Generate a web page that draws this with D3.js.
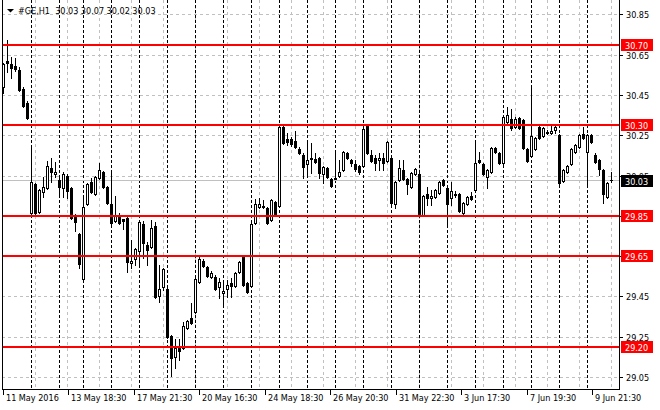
<!DOCTYPE html>
<html>
<head>
<meta charset="utf-8">
<script src="https://cdn.jsdelivr.net/npm/d3@7"></script>
<style>
  body { margin: 0; background: #fff; }
  text { font-family: "DejaVu Sans Condensed", "DejaVu Sans", sans-serif; font-size: 9px; }
</style>
</head>
<body>
<svg id="chart" width="660" height="410"></svg>
<script>
// --- data (H1 bars) ---
const open = [
  30.489,30.618,30.603,30.593,30.573,30.479,30.410,29.864,30.008,29.869,
  29.968,29.988,30.087,30.057,30.028,29.988,30.048,29.988,29.854,29.760,
  29.536,29.909,30.018,29.958,30.038,30.067,29.993,29.909,29.824,29.854,
  29.834,29.839,29.616,29.636,29.675,29.809,29.705,29.695,29.799,29.452,
  29.497,29.487,29.254,29.149,29.194,29.194,29.293,29.343,29.372,29.521,
  29.626,29.596,29.546,29.546,29.497,29.467,29.487,29.516,29.502,29.571,
  29.646,29.516,29.502,29.814,29.894,29.899,29.889,29.829,29.918,29.899,
  30.291,30.231,30.231,30.221,30.181,30.152,30.107,30.137,30.132,30.137,
  30.057,30.087,30.033,30.038,30.048,30.077,30.162,30.127,30.107,30.097,
  30.097,30.296,30.152,30.137,30.127,30.137,30.122,30.137,29.909,30.028,
  30.077,30.033,29.993,30.057,30.057,29.854,29.958,29.938,29.943,29.963,
  30.028,29.988,29.938,29.953,29.958,29.864,29.909,29.948,29.978,30.127,
  30.107,30.043,30.067,30.186,30.162,30.112,30.315,30.330,30.291,30.335,
  30.325,30.181,30.147,30.181,30.291,30.246,30.261,30.261,30.276,30.251,
  30.023,30.067,30.107,30.167,30.191,30.256,30.167,30.251,30.152,30.127,
  30.077,29.943,30.030
];
const high = [
  30.608,30.722,30.638,30.633,30.588,30.489,30.420,30.196,30.013,29.983,
  30.043,30.122,30.137,30.117,30.052,30.067,30.057,29.993,29.859,29.765,
  29.953,30.013,30.038,30.048,30.112,30.072,29.998,30.062,29.948,29.864,
  29.834,29.844,29.730,29.690,29.824,29.824,29.720,29.829,29.819,29.606,
  29.591,29.492,29.259,29.239,29.239,29.323,29.333,29.417,29.541,29.646,
  29.636,29.601,29.576,29.556,29.541,29.521,29.531,29.541,29.571,29.626,
  29.651,29.521,29.814,29.933,29.938,29.928,29.894,29.933,29.923,30.296,
  30.296,30.261,30.241,30.271,30.191,30.162,30.211,30.211,30.162,30.142,
  30.097,30.092,30.038,30.167,30.127,30.172,30.167,30.132,30.127,30.102,
  30.286,30.301,30.176,30.152,30.162,30.162,30.221,30.142,30.023,30.127,
  30.127,30.038,30.067,30.087,30.062,29.953,29.993,29.978,29.983,30.023,
  30.033,30.003,30.018,29.973,29.963,29.918,29.948,29.968,30.226,30.167,
  30.112,30.082,30.191,30.191,30.167,30.345,30.390,30.380,30.340,30.340,
  30.330,30.186,30.499,30.241,30.296,30.291,30.276,30.306,30.306,30.256,
  30.082,30.102,30.186,30.206,30.256,30.291,30.256,30.256,30.162,30.132,
  30.082,30.018,30.070
];
const low = [
  30.459,30.563,30.534,30.568,30.469,30.390,30.330,29.854,29.854,29.864,
  29.943,29.983,30.018,30.043,29.943,29.943,29.938,29.834,29.774,29.591,
  29.531,29.904,29.963,29.953,30.033,29.988,29.909,29.809,29.819,29.809,
  29.784,29.571,29.591,29.606,29.596,29.641,29.606,29.690,29.442,29.422,
  29.482,29.244,29.055,29.095,29.134,29.189,29.288,29.313,29.367,29.516,
  29.596,29.546,29.541,29.482,29.442,29.407,29.447,29.447,29.497,29.566,
  29.502,29.467,29.497,29.809,29.889,29.889,29.809,29.824,29.849,29.894,
  30.206,30.201,30.196,30.186,30.157,30.038,30.043,30.062,30.112,30.038,
  30.013,30.038,29.993,30.033,30.043,30.072,30.132,30.097,30.072,30.057,
  30.092,30.157,30.117,30.077,30.077,30.077,30.117,29.909,29.889,30.023,
  30.028,29.958,29.988,30.052,29.849,29.849,29.904,29.904,29.938,29.958,
  29.998,29.795,29.904,29.943,29.869,29.859,29.904,29.928,29.973,30.112,
  30.052,29.988,30.062,30.162,30.107,30.107,30.310,30.276,30.286,30.281,
  30.181,30.117,30.142,30.176,30.231,30.241,30.256,30.256,30.261,30.008,
  30.018,30.062,30.102,30.162,30.186,30.231,30.003,30.211,30.112,30.052,
  29.914,29.938,30.020
];
const close = [
  30.603,30.608,30.583,30.578,30.474,30.395,30.335,30.018,29.864,29.978,
  29.993,30.097,30.067,30.067,29.993,30.057,29.973,29.839,29.819,29.611,
  29.894,30.008,29.968,30.043,30.077,29.993,29.914,29.814,29.854,29.814,
  29.824,29.621,29.626,29.685,29.819,29.715,29.680,29.789,29.447,29.487,
  29.586,29.249,29.144,29.194,29.179,29.303,29.328,29.318,29.536,29.636,
  29.601,29.551,29.566,29.487,29.521,29.477,29.507,29.502,29.566,29.621,
  29.507,29.472,29.809,29.909,29.909,29.894,29.814,29.928,29.854,30.291,
  30.211,30.216,30.206,30.191,30.162,30.092,30.127,30.132,30.117,30.062,
  30.092,30.043,29.998,30.033,30.067,30.167,30.137,30.112,30.082,30.067,
  30.281,30.162,30.122,30.112,30.137,30.112,30.216,29.914,30.018,30.087,
  30.033,30.008,30.062,30.082,29.854,29.948,29.938,29.948,29.978,30.018,
  30.003,29.909,29.973,29.958,29.874,29.914,29.943,29.933,30.112,30.117,
  30.057,30.077,30.186,30.167,30.112,30.340,30.350,30.286,30.330,30.286,
  30.186,30.122,30.246,30.236,30.236,30.286,30.266,30.271,30.291,30.013,
  30.077,30.097,30.181,30.201,30.251,30.236,30.251,30.216,30.117,30.082,
  29.958,30.013,30.030
];

// first bar of every trading day (period separators)
const dayStarts = [7,14,20,27,34,41,48,55,62,69,76,83,90,97,104,111,118,125,132,139,146];

// time axis labels (evenly spaced along the axis)
const timeLabels = ["11 May 2016","13 May 18:30","17 May 21:30","20 May 16:30","24 May 18:30",
                    "26 May 20:30","31 May 22:30","3 Jun 17:30","7 Jun 19:30","9 Jun 21:30"];

// price scale
const priceTicks = [30.85,30.65,30.45,30.25,30.05,29.85,29.65,29.45,29.25,29.05];
const levels = [30.70,30.30,29.85,29.65,29.20];
const bid = 30.03;
const symbol = "#GE,H1";
const lastBar = ["30.03","30.07","30.02","30.03"];

// --- setup ---
const svg = d3.select("#chart");
const plotLeft = 2, plotRight = 619, plotBottom = 389;

const x = d3.scaleLinear().domain([0, 152]).range([3, 611]);        // pixel column of bar centre
const y = d3.scaleLinear().domain([29.20, 30.70]).range([346.7, 44.7]);
const py = v => Math.round(y(v));
const tx = d3.scalePoint().domain(timeLabels).range([3, 592]);      // time label slots

const bars = open.map((o, i) => ({ i, o, h: high[i], l: low[i], c: close[i] }));

svg.append("rect").attr("width", 660).attr("height", 410).attr("fill", "#fff");

const g = svg.append("g").attr("shape-rendering", "crispEdges");

// horizontal grid
g.selectAll("line.hgrid")
  .data(priceTicks)
  .enter().append("line")
    .attr("x1", plotLeft).attr("x2", plotRight)
    .attr("y1", d => py(d) + 0.5).attr("y2", d => py(d) + 0.5)
    .attr("stroke", "#c0c0c0").attr("stroke-dasharray", "3,3");

// vertical grid every 8 bars
g.selectAll("line.vgrid")
  .data(d3.range(8, 153, 8))
  .enter().append("line")
    .attr("x1", d => x(d) + 0.5).attr("x2", d => x(d) + 0.5)
    .attr("y1", 0).attr("y2", plotBottom)
    .attr("stroke", "#c0c0c0").attr("stroke-dasharray", "3,3");

// day separators
g.selectAll("line.sep")
  .data(dayStarts)
  .enter().append("line")
    .attr("x1", d => x(d) + 0.5).attr("x2", d => x(d) + 0.5)
    .attr("y1", 0).attr("y2", plotBottom)
    .attr("stroke", "#000").attr("stroke-dasharray", "3,2");

// bid line
g.append("line")
  .attr("x1", plotLeft).attr("x2", plotRight)
  .attr("y1", py(bid) + 0.5).attr("y2", py(bid) + 0.5)
  .attr("stroke", "#c0c0c0");

// candles: wick
g.selectAll("line.wick")
  .data(bars)
  .enter().append("line")
    .attr("x1", d => x(d.i) + 0.5).attr("x2", d => x(d.i) + 0.5)
    .attr("y1", d => py(d.h)).attr("y2", d => py(d.l) + 1)
    .attr("stroke", "#000");

// candles: body
g.selectAll("rect.body")
  .data(bars)
  .enter().append("rect")
    .each(function(d) {
      const r = d3.select(this);
      const top = py(Math.max(d.o, d.c)), bot = py(Math.min(d.o, d.c));
      if (d.c > d.o) {
        // bull: hollow
        r.attr("x", x(d.i) - 0.5).attr("y", top + 0.5)
         .attr("width", 2).attr("height", Math.max(1, bot - top))
         .attr("fill", "#fff").attr("stroke", "#000");
      } else {
        r.attr("x", x(d.i) - 1).attr("y", top)
         .attr("width", 3).attr("height", Math.max(1, bot - top + 1))
         .attr("fill", "#000");
      }
    });

// support / resistance levels
g.selectAll("line.level")
  .data(levels)
  .enter().append("line")
    .attr("x1", plotLeft).attr("x2", plotRight)
    .attr("y1", d => py(d)).attr("y2", d => py(d))
    .attr("stroke", "#ff0000").attr("stroke-width", 2);

// frame
g.append("line").attr("x1", plotLeft + 0.5).attr("x2", plotLeft + 0.5)
  .attr("y1", 0).attr("y2", plotBottom + 1).attr("stroke", "#000");
g.append("line").attr("x1", plotLeft).attr("x2", plotRight + 1)
  .attr("y1", plotBottom + 0.5).attr("y2", plotBottom + 0.5).attr("stroke", "#000");
g.append("line").attr("x1", plotRight + 0.5).attr("x2", plotRight + 0.5)
  .attr("y1", 0).attr("y2", plotBottom + 1).attr("stroke", "#000");

// price axis
g.selectAll("line.ptick")
  .data(priceTicks)
  .enter().append("line")
    .attr("x1", plotRight).attr("x2", plotRight + 4)
    .attr("y1", d => py(d) + 0.5).attr("y2", d => py(d) + 0.5)
    .attr("stroke", "#000");
svg.selectAll("text.price")
  .data(priceTicks)
  .enter().append("text")
    .attr("x", 626).attr("y", d => py(d) + 4)
    .attr("fill", "#000")
    .text(d => d.toFixed(2));

// level tags
const tags = svg.append("g");
levels.forEach(v => {
  tags.append("rect").attr("x", 621).attr("y", py(v) - 6).attr("width", 32).attr("height", 12)
    .attr("fill", "#ff0000").attr("shape-rendering", "crispEdges");
  tags.append("text").attr("x", 625).attr("y", py(v) + 4).attr("fill", "#fff").text(v.toFixed(2));
});
tags.append("rect").attr("x", 621).attr("y", py(bid) - 5).attr("width", 32).attr("height", 12)
  .attr("fill", "#000").attr("shape-rendering", "crispEdges");
tags.append("text").attr("x", 625).attr("y", py(bid) + 5).attr("fill", "#fff").text(bid.toFixed(2));

// time axis
g.selectAll("line.ttick")
  .data(timeLabels)
  .enter().append("line")
    .attr("x1", d => Math.round(tx(d)) + 0.5).attr("x2", d => Math.round(tx(d)) + 0.5)
    .attr("y1", plotBottom).attr("y2", plotBottom + 6)
    .attr("stroke", "#000");
svg.selectAll("text.time")
  .data(timeLabels)
  .enter().append("text")
    .attr("x", d => Math.round(tx(d)) + 3).attr("y", 401)
    .attr("fill", "#000")
    .text(d => d);

// header
svg.append("path").attr("d", "M7,9L14,9L10.5,12.5Z").attr("fill", "#000");
svg.append("text").attr("x", 18).attr("y", 14).attr("fill", "#000")
  .style("white-space", "pre")
  .text(symbol + "  " + lastBar.join(" "));
</script>
</body>
</html>
